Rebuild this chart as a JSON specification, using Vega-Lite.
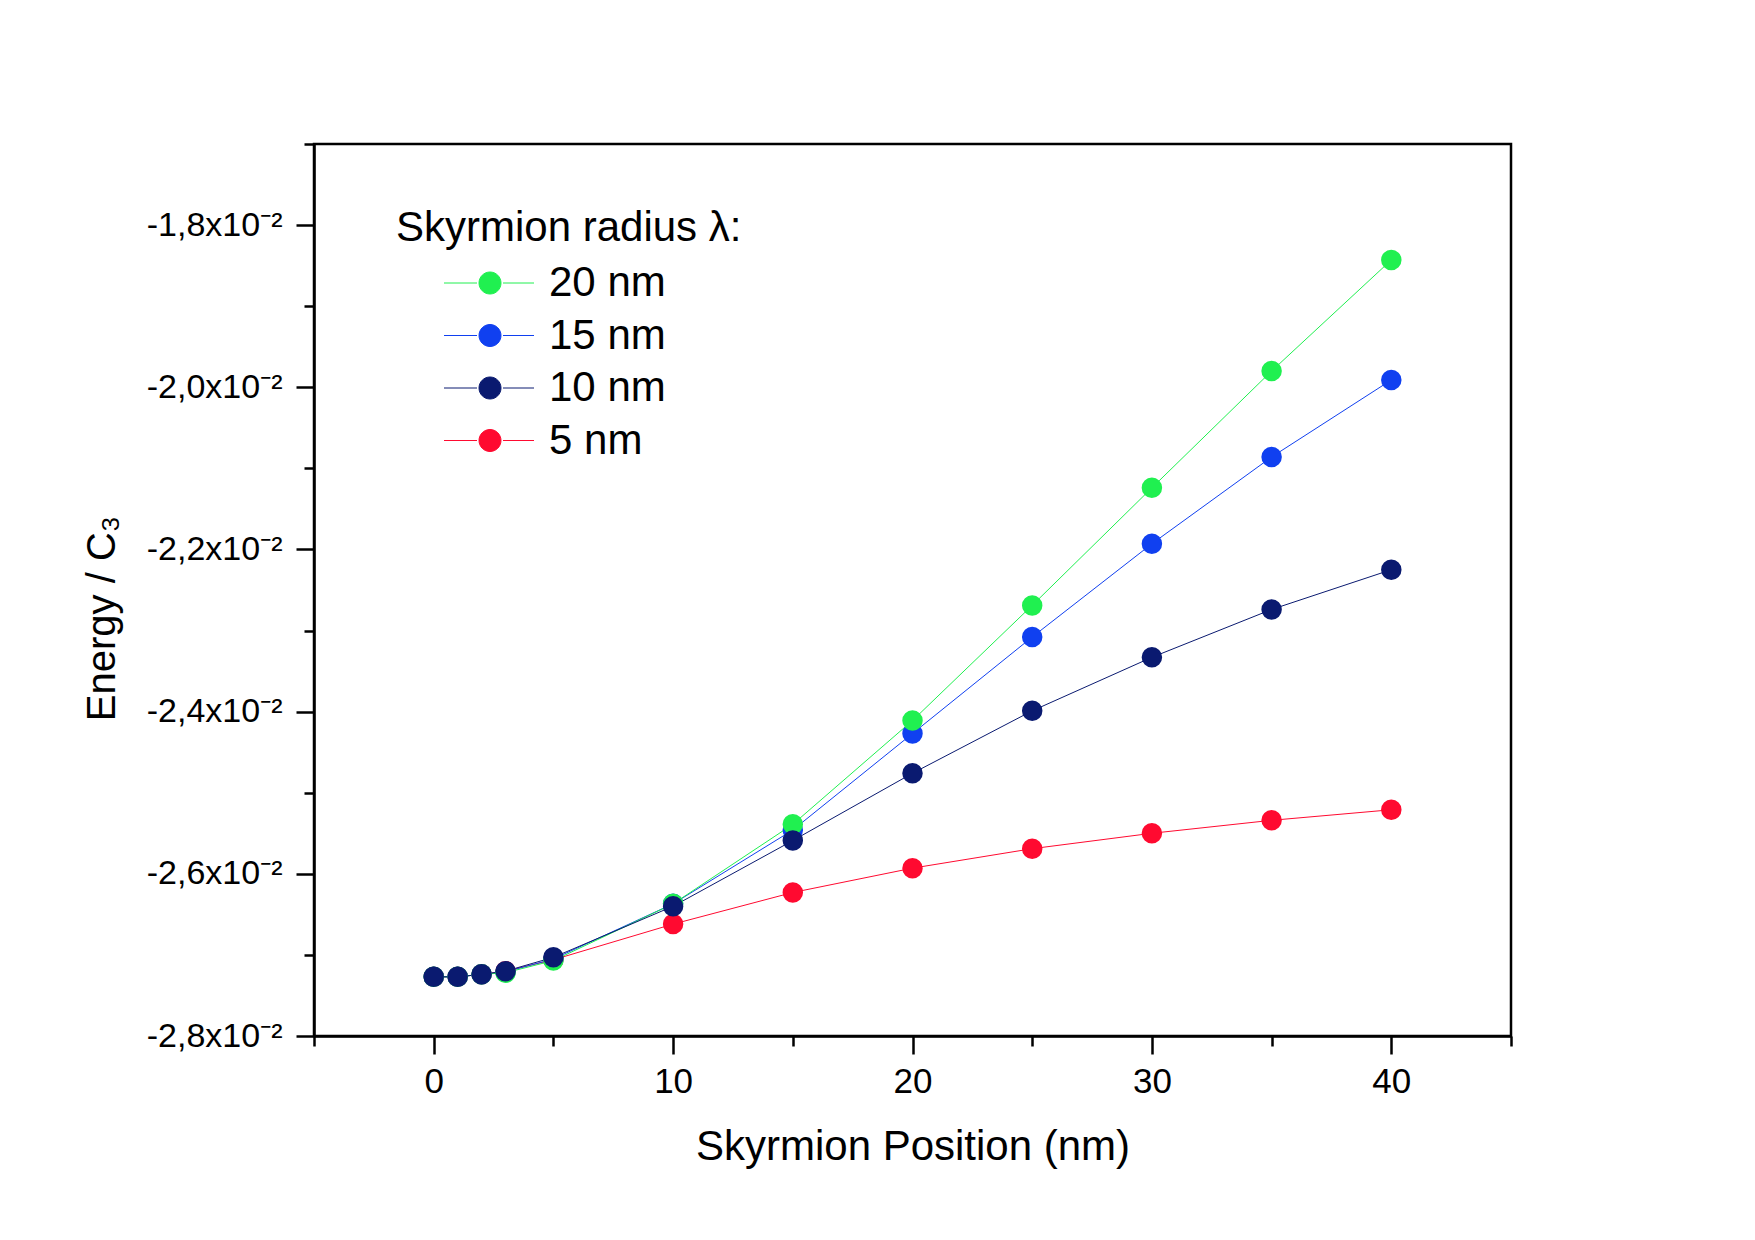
{
  "$schema": "https://vega.github.io/schema/vega-lite/v6.json",
  "autosize": {"type": "none"},
  "width": 1197,
  "height": 892,
  "padding": {"left": 314, "top": 144, "right": 244, "bottom": 204},
  "background": "white",
  "config": {
    "font": "Liberation Sans",
    "view": {"stroke": "black", "strokeWidth": 2.5},
    "axis": {
      "grid": false,
      "domainColor": "black",
      "domainWidth": 2.5,
      "tickColor": "black",
      "tickWidth": 2.5,
      "labelColor": "black",
      "titleColor": "black",
      "titleFontWeight": "normal",
      "labelFont": "Liberation Sans",
      "titleFont": "Liberation Sans"
    }
  },
  "data": {
    "values": [
      {"position": 0, "energy": -0.02727, "radius": "5 nm"},
      {"position": 1, "energy": -0.02727, "radius": "5 nm"},
      {"position": 2, "energy": -0.02724, "radius": "5 nm"},
      {"position": 3, "energy": -0.0272, "radius": "5 nm"},
      {"position": 5, "energy": -0.02706, "radius": "5 nm"},
      {"position": 10, "energy": -0.02662, "radius": "5 nm"},
      {"position": 15, "energy": -0.02623, "radius": "5 nm"},
      {"position": 20, "energy": -0.02593, "radius": "5 nm"},
      {"position": 25, "energy": -0.02569, "radius": "5 nm"},
      {"position": 30, "energy": -0.0255, "radius": "5 nm"},
      {"position": 35, "energy": -0.02534, "radius": "5 nm"},
      {"position": 40, "energy": -0.02521, "radius": "5 nm"},

      {"position": 0, "energy": -0.02727, "radius": "15 nm"},
      {"position": 1, "energy": -0.02727, "radius": "15 nm"},
      {"position": 2, "energy": -0.02724, "radius": "15 nm"},
      {"position": 3, "energy": -0.02721, "radius": "15 nm"},
      {"position": 5, "energy": -0.02705, "radius": "15 nm"},
      {"position": 10, "energy": -0.02637, "radius": "15 nm"},
      {"position": 15, "energy": -0.02546, "radius": "15 nm"},
      {"position": 20, "energy": -0.02427, "radius": "15 nm"},
      {"position": 25, "energy": -0.02308, "radius": "15 nm"},
      {"position": 30, "energy": -0.02193, "radius": "15 nm"},
      {"position": 35, "energy": -0.02086, "radius": "15 nm"},
      {"position": 40, "energy": -0.01991, "radius": "15 nm"},

      {"position": 0, "energy": -0.02727, "radius": "20 nm"},
      {"position": 1, "energy": -0.02727, "radius": "20 nm"},
      {"position": 2, "energy": -0.02724, "radius": "20 nm"},
      {"position": 3, "energy": -0.02722, "radius": "20 nm"},
      {"position": 5, "energy": -0.02707, "radius": "20 nm"},
      {"position": 10, "energy": -0.02637, "radius": "20 nm"},
      {"position": 15, "energy": -0.02539, "radius": "20 nm"},
      {"position": 20, "energy": -0.02411, "radius": "20 nm"},
      {"position": 25, "energy": -0.02269, "radius": "20 nm"},
      {"position": 30, "energy": -0.02124, "radius": "20 nm"},
      {"position": 35, "energy": -0.0198, "radius": "20 nm"},
      {"position": 40, "energy": -0.01843, "radius": "20 nm"},

      {"position": 0, "energy": -0.02727, "radius": "10 nm"},
      {"position": 1, "energy": -0.02727, "radius": "10 nm"},
      {"position": 2, "energy": -0.02724, "radius": "10 nm"},
      {"position": 3, "energy": -0.0272, "radius": "10 nm"},
      {"position": 5, "energy": -0.02703, "radius": "10 nm"},
      {"position": 10, "energy": -0.0264, "radius": "10 nm"},
      {"position": 15, "energy": -0.02559, "radius": "10 nm"},
      {"position": 20, "energy": -0.02476, "radius": "10 nm"},
      {"position": 25, "energy": -0.02399, "radius": "10 nm"},
      {"position": 30, "energy": -0.02333, "radius": "10 nm"},
      {"position": 35, "energy": -0.02274, "radius": "10 nm"},
      {"position": 40, "energy": -0.02225, "radius": "10 nm"}
    ]
  },
  "encoding": {
    "x": {
      "field": "position",
      "type": "quantitative",
      "scale": {"domain": [-5, 45], "nice": false, "zero": false},
      "axis": {
        "title": "Skyrmion Position (nm)",
        "titleFontSize": 42,
        "titlePadding": 27,
        "values": [-5, 0, 5, 10, 15, 20, 25, 30, 35, 40, 45],
        "labelExpr": "datum.value % 10 == 0 ? format(datum.value, 'd') : ''",
        "labelFontSize": 35,
        "labelPadding": 10,
        "labelFlush": false,
        "tickSize": {"condition": {"test": "datum.value % 10 == 0", "value": 18}, "value": 10}
      }
    },
    "y": {
      "field": "energy",
      "type": "quantitative",
      "scale": {"domain": [-0.028, -0.017], "nice": false, "zero": false},
      "axis": {
        "title": "Energy / C₃",
        "titleFontSize": 40,
        "titleX": -192,
        "titleY": 474,
        "values": [-0.028, -0.027, -0.026, -0.025, -0.024, -0.023, -0.022, -0.021, -0.02, -0.019, -0.018, -0.017],
        "labelExpr": "abs(round(datum.value * 1000)) % 2 == 0 ? '-' + replace(format(abs(datum.value * 100), '.1f'), '.', ',') + 'x10⁻²' : ''",
        "labelFontSize": 34,
        "labelPadding": 14,
        "labelFlush": false,
        "tickSize": {"condition": {"test": "abs(round(datum.value * 1000)) % 2 == 0", "value": 18}, "value": 10}
      }
    },
    "color": {
      "field": "radius",
      "type": "nominal",
      "scale": {
        "domain": ["20 nm", "15 nm", "10 nm", "5 nm"],
        "range": ["#20f050", "#1040f0", "#0a1a70", "#ff0a30"]
      },
      "legend": {
        "title": "Skyrmion radius λ:",
        "orient": "none",
        "legendX": 82,
        "legendY": 64,
        "padding": 0,
        "titleFontSize": 42,
        "titleFontWeight": "normal",
        "titleColor": "black",
        "titlePadding": 12,
        "titleLimit": 800,
        "labelFontSize": 42,
        "labelColor": "black",
        "labelLimit": 400,
        "labelOffset": 38,
        "rowPadding": 10.5,
        "symbolOffset": 73,
        "symbolSize": 400,
        "symbolType": "M-4.6,0H-1.3M1.3,0H4.4M1.1,0A1.1,1.1,0,1,1,-1.1,0A1.1,1.1,0,1,1,1.1,0Z",
        "encode": {
          "symbols": {
            "update": {
              "fill": {"scale": "color", "field": "value"},
              "stroke": {"scale": "color", "field": "value"},
              "strokeWidth": {"value": 1},
              "opacity": {"value": 1}
            }
          }
        }
      }
    }
  },
  "layer": [
    {"mark": {"type": "line", "strokeWidth": 1}},
    {"mark": {"type": "point", "shape": "circle", "filled": true, "opacity": 1, "size": 420, "strokeWidth": 0}}
  ]
}
